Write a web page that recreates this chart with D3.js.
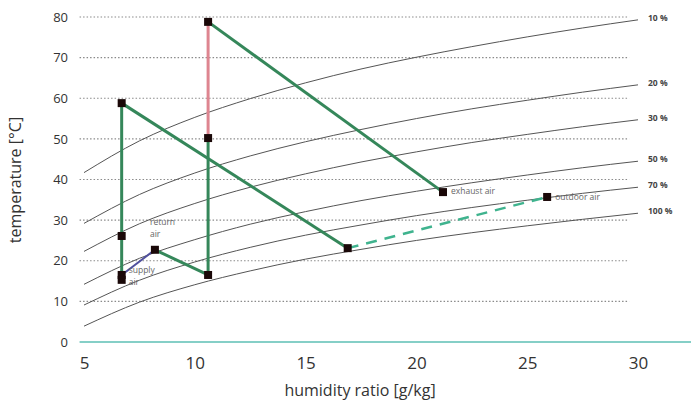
<!DOCTYPE html>
<html>
<head>
<meta charset="utf-8">
<script src="https://cdn.jsdelivr.net/npm/d3@7"></script>
<style>
  body { margin: 0; background: #fff; }
  text { font-family: "Open Sans", "Noto Sans", sans-serif; }
</style>
</head>
<body>
<div id="chart"></div>
<script>
// ********** DATA **********

// humidity ratio values [g/kg] where the RH curves were read
var curveW = [5, 7.5, 10, 12.5, 15, 17.5, 20, 22.5, 25, 27.5, 30];

// temperature [°C] of each RH curve at the humidity ratios above
var rhLabels = ['10 %', '20 %', '30 %', '50 %', '70 %', '100 %'];
var rh10 = [41.7, 49.5, 55.3, 59.9, 63.8, 67.2, 70.1, 72.7, 75.1, 77.3, 79.3];
var rh20 = [29.2, 36.3, 41.6, 45.8, 49.3, 52.3, 55.0, 57.4, 59.5, 61.5, 63.3];
var rh30 = [22.3, 29.1, 34.1, 38.1, 41.4, 44.3, 46.8, 49.1, 51.1, 53.0, 54.7];
var rh50 = [14.2, 20.6, 25.2, 29.0, 32.1, 34.8, 37.1, 39.2, 41.1, 42.9, 44.5];
var rh70 = [9.1, 15.2, 19.7, 23.3, 26.3, 28.8, 31.1, 33.1, 34.9, 36.6, 38.1];
var rh100 = [3.9, 9.8, 14.1, 17.5, 20.4, 22.8, 25.0, 26.9, 28.6, 30.2, 31.7];

// process points: humidity ratio [g/kg] and temperature [°C]
var pointW = [6.7, 6.7, 6.7, 6.7, 8.2, 10.6, 10.6, 10.6, 16.9, 21.2, 25.9];
var pointT = [58.8, 26.1, 16.5, 15.3, 22.7, 16.5, 50.2, 78.8, 23.1, 36.9, 35.7];

// process lines (indices into the point arrays)
var greenLines = [[0, 3], [0, 8], [4, 5], [5, 6], [7, 9]];
var redLines = [[6, 7]];
var blueLines = [[2, 4]];
var dashedLines = [[8, 10]];

// point labels
var pointLabels = [
  {i: 4, lines: ['return', 'air'], dx: -5, dy: -25},
  {i: 2, lines: ['supply', 'air'], dx: 7, dy: -2},
  {i: 9, lines: ['exhaust air'], dx: 8, dy: 2},
  {i: 10, lines: ['outdoor air'], dx: 8, dy: 3}
];

var xTicks = [5, 10, 15, 20, 25, 30];
var yTicks = [0, 10, 20, 30, 40, 50, 60, 70, 80];

// ********** SET UP **********

var width = 691;
var height = 402;

var svg = d3.select('#chart').append('svg')
  .attr('width', width)
  .attr('height', height);

var x = d3.scaleLinear().domain([5, 30]).range([84, 638]);
var y = d3.scaleLinear().domain([0, 80]).range([342, 17]);

// ********** GRID **********

svg.selectAll('.grid')
  .data(yTicks.filter(d => d > 0))
  .join('line')
  .attr('class', 'grid')
  .attr('x1', x(4.8))
  .attr('x2', x(29.6))
  .attr('y1', d => y(d))
  .attr('y2', d => y(d))
  .attr('stroke', '#8a8a8a')
  .attr('stroke-width', 1.2)
  .attr('stroke-dasharray', '1.5,2');

// ********** RH CURVES **********

var curves = [rh10, rh20, rh30, rh50, rh70, rh100];
var curveLine = d3.line()
  .x((d, i) => x(curveW[i]))
  .y(d => y(d))
  .curve(d3.curveMonotoneX);

svg.selectAll('.rh')
  .data(curves)
  .join('path')
  .attr('class', 'rh')
  .attr('d', curveLine)
  .attr('fill', 'none')
  .attr('stroke', '#555')
  .attr('stroke-width', 1);

svg.selectAll('.rhLabel')
  .data(curves)
  .join('text')
  .attr('class', 'rhLabel')
  .attr('x', x(30) + 10)
  .attr('y', (d, i) => y(d[d.length - 1]) - 2)
  .attr('dy', '0.35em')
  .attr('font-size', 8.5)
  .attr('font-weight', 'bold')
  .attr('fill', '#444')
  .text((d, i) => rhLabels[i]);

// ********** AXES **********

var xAxis = svg.append('g')
  .attr('transform', 'translate(0,' + y(0) + ')')
  .call(d3.axisBottom(x).tickValues(xTicks).tickSize(0).tickPadding(15));
xAxis.select('.domain').remove();
xAxis.selectAll('text')
  .attr('font-size', 17)
  .attr('fill', '#333')
  .style('font-family', '"Open Sans", sans-serif');

svg.append('line')
  .attr('x1', x(4.8))
  .attr('x2', width)
  .attr('y1', y(0))
  .attr('y2', y(0))
  .attr('stroke', '#5cbfb4')
  .attr('stroke-width', 1.5);

var yAxis = svg.append('g')
  .attr('transform', 'translate(70,0)')
  .call(d3.axisLeft(y).tickValues(yTicks).tickSize(0).tickPadding(2));
yAxis.select('.domain').remove();
yAxis.selectAll('text')
  .attr('font-size', 13)
  .attr('fill', '#333')
  .style('font-family', '"Open Sans", sans-serif');

svg.append('text')
  .attr('x', 360)
  .attr('y', 396)
  .attr('text-anchor', 'middle')
  .attr('font-size', 16)
  .attr('fill', '#333')
  .text('humidity ratio [g/kg]');

svg.append('text')
  .attr('transform', 'translate(21,180) rotate(-90)')
  .attr('text-anchor', 'middle')
  .attr('font-size', 16)
  .attr('fill', '#333')
  .text('temperature [°C]');

// ********** PROCESS LINES **********

function drawSegments(segs, color, w, dash) {
  svg.append('g').selectAll('line')
    .data(segs)
    .join('line')
    .attr('x1', d => x(pointW[d[0]]))
    .attr('y1', d => y(pointT[d[0]]))
    .attr('x2', d => x(pointW[d[1]]))
    .attr('y2', d => y(pointT[d[1]]))
    .attr('stroke', color)
    .attr('stroke-width', w)
    .attr('stroke-dasharray', dash);
}

drawSegments(greenLines, '#35875a', 3, null);
drawSegments(redLines, '#de8590', 3, null);
drawSegments(blueLines, '#50509e', 2, null);
drawSegments(dashedLines, '#3fb38e', 2.5, '11,8');

// ********** POINTS **********

svg.selectAll('.pt')
  .data(pointW)
  .join('rect')
  .attr('class', 'pt')
  .attr('x', (d, i) => x(d) - 4)
  .attr('y', (d, i) => y(pointT[i]) - 4)
  .attr('width', 8)
  .attr('height', 8)
  .attr('fill', '#1a0808');

pointLabels.forEach(function(p) {
  var t = svg.append('text')
    .attr('x', x(pointW[p.i]) + p.dx)
    .attr('y', y(pointT[p.i]) + p.dy)
    .attr('font-size', 8.5)
    .attr('fill', '#666');
  p.lines.forEach(function(s, k) {
    t.append('tspan')
      .attr('x', x(pointW[p.i]) + p.dx)
      .attr('dy', k === 0 ? 0 : 12)
      .text(s);
  });
});
</script>
</body>
</html>
